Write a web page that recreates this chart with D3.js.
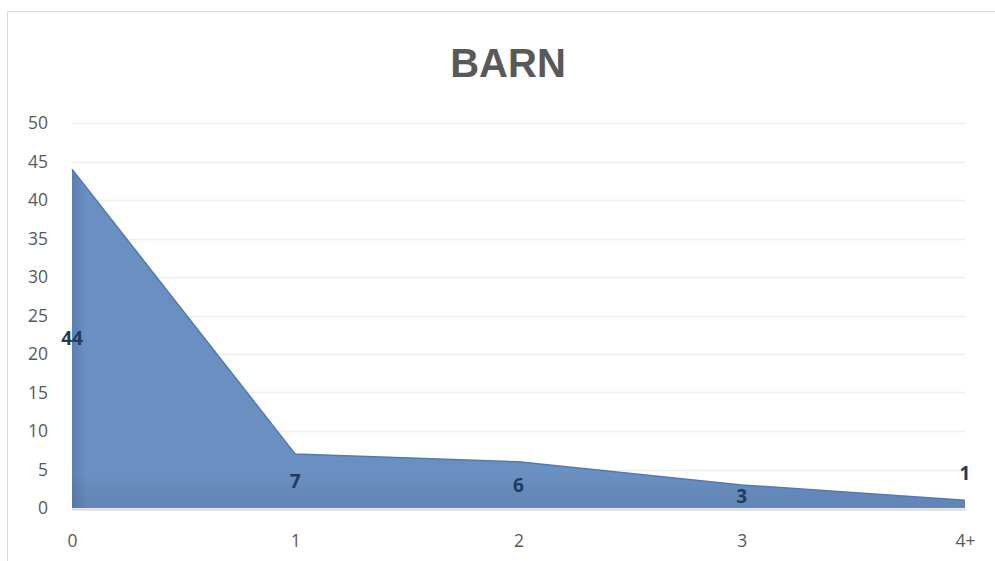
<!DOCTYPE html>
<html><head><meta charset="utf-8">
<script src="https://cdn.jsdelivr.net/npm/d3@7"></script>
<style>html,body{margin:0;padding:0;background:#fff;}svg{display:block;}</style>
</head><body>
<svg id="c" width="995" height="561"></svg>
<script>
const categories = ["0","1","2","3","4+"];
const values = [44, 7, 6, 3, 1];
const yTicks = [0,5,10,15,20,25,30,35,40,45,50];
const title = "BARN";

const svg = d3.select("#c");
const W = 995, H = 561;
const m = {left:72, right:30, top:123, bottom:53};

// chart frame
svg.append("path").attr("d","M7.5,561 L7.5,11.5 L995,11.5").attr("fill","none").attr("stroke","#d9d9d9").attr("stroke-width",1);

const x = d3.scalePoint().domain(categories).range([m.left, W - m.right]);
const y = d3.scaleLinear().domain([0,50]).range([H - m.bottom, m.top]);

// gridlines
svg.append("g").selectAll("line").data(yTicks.filter(d=>d>0)).join("line")
  .attr("x1", m.left).attr("x2", W - m.right + 1)
  .attr("y1", d=>Math.round(y(d))+0.5).attr("y2", d=>Math.round(y(d))+0.5)
  .attr("stroke","#efefef").attr("stroke-width",1.5);

// y axis labels
const yAxis = d3.axisLeft(y).tickValues(yTicks).tickSize(0).tickPadding(0);
const gy = svg.append("g").attr("transform",`translate(48,0)`).call(yAxis);
gy.select(".domain").remove();
gy.selectAll("text").attr("font-family","'Open Sans', sans-serif").attr("font-size",17.5).attr("fill","#595959");

// x axis labels
const xAxis = d3.axisBottom(x).tickSize(0).tickPadding(0);
const gx = svg.append("g").attr("transform",`translate(0,${H - m.bottom + 27})`).call(xAxis);
gx.select(".domain").remove();
gx.selectAll("text").attr("font-family","'Open Sans', sans-serif").attr("font-size",17.5).attr("fill","#595959");

// gradients
const defs = svg.append("defs");
const g1 = defs.append("linearGradient").attr("id","ag").attr("gradientUnits","userSpaceOnUse")
  .attr("x1", m.left).attr("y1",0).attr("x2", m.left + 14).attr("y2",0);
g1.append("stop").attr("offset","0").attr("stop-color","#5a7fb3");
g1.append("stop").attr("offset","1").attr("stop-color","#6a90c2");
const g2 = defs.append("linearGradient").attr("id","bg").attr("x1","0").attr("y1","0").attr("x2","0").attr("y2","1");
g2.append("stop").attr("offset","0.9").attr("stop-color","#000").attr("stop-opacity",0);
g2.append("stop").attr("offset","1").attr("stop-color","#1f3864").attr("stop-opacity",0.12);

const area = d3.area().x((d,i)=>x(categories[i])).y0(y(0)).y1(d=>y(d));
svg.append("path").datum(values).attr("d",area).attr("fill","url(#ag)");
svg.append("path").datum(values).attr("d",area).attr("fill","url(#bg)");
const line = d3.line().x((d,i)=>x(categories[i])).y(d=>y(d));
svg.append("path").datum(values).attr("d",line).attr("fill","none").attr("stroke","#5479ae").attr("stroke-width",1.5);

// baseline
svg.append("line").attr("x1",m.left).attr("x2",W-m.right+1).attr("y1",y(0)+1.5).attr("y2",y(0)+1.5)
  .attr("stroke","#d9d9d9").attr("stroke-width",2);

// data labels
svg.append("g").selectAll("text").data(values).join("text")
  .attr("x",(d,i)=>x(categories[i]))
  .attr("y",(d,i)=> i === values.length-1 ? y(d) - 27 : y(d/2))
  .attr("dy","0.36em")
  .attr("text-anchor","middle")
  .attr("font-family","'Open Sans', sans-serif").attr("font-weight","bold").attr("font-size",19)
  .attr("fill","#223a5e")
  .text(d=>d);

// title
svg.append("text").attr("x",508).attr("y",77).attr("text-anchor","middle")
  .attr("font-family","'Liberation Sans', Arial, sans-serif").attr("font-weight","bold").attr("font-size",40)
  .attr("fill","#595959").text(title);
</script>
</body></html>
